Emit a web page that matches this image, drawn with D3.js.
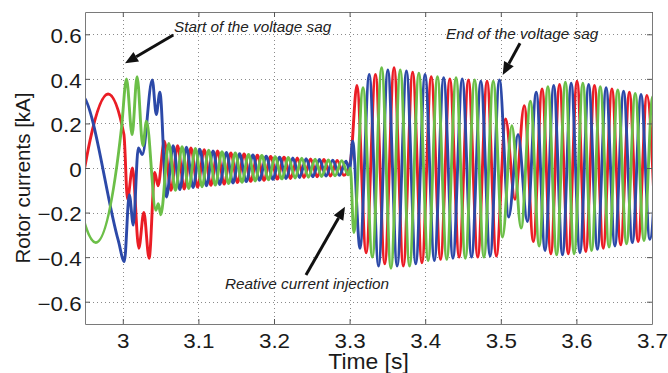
<!DOCTYPE html>
<html>
<head>
<meta charset="utf-8">
<script src="https://cdn.jsdelivr.net/npm/d3@7/dist/d3.min.js"></script>
<style>
  body { margin: 0; background: #fff; }
  svg { display: block; }
  text { font-family: "Liberation Sans", Arial, Helvetica, sans-serif; }
</style>
</head>
<body>
<div id="chart"></div>
<script>
// ---- assi ----
const xDomain = [2.95, 3.7];
const yDomain = [-0.7, 0.7];
const xTicks = [3.0, 3.1, 3.2, 3.3, 3.4, 3.5, 3.6, 3.7];
const xTickLabels = ["3", "3.1", "3.2", "3.3", "3.4", "3.5", "3.6", "3.7"];
const yTicks = [-0.6, -0.4, -0.2, 0, 0.2, 0.4, 0.6];
const yTickLabels = ["\u22120.6", "\u22120.4", "\u22120.2", "0", "0.2", "0.4", "0.6"];
const xLabel = "Time [s]";
const yLabel = "Rotor currents [kA]";

// ---- correnti di rotore: massimi/minimi [t (s), i (kA)] ----
const redPts = [
  [2.9330,-0.33],[2.9805,0.332],[3.0015,0.15],[3.0062,-0.14],[3.0128,0.00],[3.0212,-0.36],
  [3.0278,-0.20],[3.0348,-0.405],[3.0423,-0.02],[3.0466,-0.08],[3.0549,0.12],
  [3.0637,-0.10],[3.0725,0.10],[3.0813,-0.094],[3.0901,0.09],[3.0989,-0.086],[3.1077,0.082],
  [3.1165,-0.078],[3.1253,0.076],[3.1341,-0.072],[3.1429,0.068],[3.1517,-0.065],[3.1604,0.063],
  [3.1692,-0.06],[3.1780,0.057],[3.1868,-0.055],[3.1956,0.052],[3.2044,-0.05],[3.2132,0.049],
  [3.2220,-0.047],[3.2308,0.045],[3.2396,-0.043],[3.2484,0.041],[3.2572,-0.039],[3.2660,0.038],
  [3.2748,-0.036],[3.2836,0.034],[3.2924,-0.033],[3.3012,0.03],
  [3.3096,0.37],[3.3219,-0.38],[3.3342,0.42],[3.3465,-0.43],[3.3588,0.45],[3.3711,-0.44],
  [3.3834,0.43],[3.3957,-0.425],[3.4080,0.41],[3.4203,-0.41],[3.4326,0.40],[3.4449,-0.40],
  [3.4572,0.395],[3.4695,-0.40],[3.4818,0.39],[3.4941,-0.395],[3.5064,0.22],[3.5187,-0.14],
  [3.5310,0.28],[3.5431,-0.33],[3.5546,0.355],[3.5662,-0.385],[3.5777,0.375],[3.5893,-0.385],
  [3.6008,0.39],[3.6124,-0.375],[3.6239,0.37],[3.6355,-0.36],[3.6470,0.355],[3.6586,-0.345],
  [3.6701,0.34],[3.6817,-0.33],[3.6932,0.325],[3.7048,-0.315]
];
const bluePts = [
  [2.8960,-0.33],[2.9434,0.335],[2.9940,-0.325],[3.0020,-0.42],[3.0086,-0.12],[3.0139,-0.256],
  [3.0205,0.09],[3.0258,0.06],[3.0390,0.395],[3.0443,0.24],[3.0490,0.34],[3.0578,-0.13],
  [3.0666,0.10],[3.0754,-0.097],[3.0842,0.093],[3.0930,-0.088],[3.1018,0.084],[3.1106,-0.08],
  [3.1194,0.077],[3.1282,-0.074],[3.1370,0.07],[3.1458,-0.067],[3.1545,0.064],[3.1633,-0.061],
  [3.1721,0.058],[3.1809,-0.055],[3.1897,0.053],[3.1985,-0.051],[3.2073,0.049],[3.2161,-0.047],
  [3.2249,0.045],[3.2337,-0.043],[3.2425,0.042],[3.2513,-0.04],[3.2601,0.038],[3.2689,-0.036],
  [3.2777,0.035],[3.2865,-0.033],[3.2953,0.031],[3.3000,-0.01],[3.3040,0.12],
  [3.3137,-0.36],[3.3260,0.42],[3.3383,-0.44],[3.3506,0.44],[3.3629,-0.44],[3.3752,0.435],
  [3.3875,-0.43],[3.3998,0.42],[3.4121,-0.415],[3.4244,0.405],[3.4367,-0.405],[3.4490,0.40],
  [3.4613,-0.40],[3.4736,0.39],[3.4859,-0.395],[3.4982,0.395],[3.5105,-0.22],[3.5228,0.15],
  [3.5351,-0.24],[3.5469,0.34],[3.5585,-0.37],[3.5700,0.37],[3.5816,-0.39],[3.5931,0.38],
  [3.6047,-0.38],[3.6162,0.375],[3.6278,-0.365],[3.6393,0.36],[3.6509,-0.35],[3.6624,0.345],
  [3.6740,-0.335],[3.6855,0.33],[3.6971,-0.32],[3.7086,0.315]
];
const greenPts = [
  [2.9168,0.33],[2.9643,-0.335],[2.9983,0.18],[3.0049,0.40],[3.0123,0.15],[3.0189,0.41],
  [3.0265,0.10],[3.0313,0.21],[3.0437,-0.19],[3.0470,-0.16],[3.0503,-0.21],[3.0608,0.11],
  [3.0696,-0.10],[3.0784,0.096],[3.0872,-0.092],[3.0960,0.088],[3.1048,-0.084],[3.1136,0.08],
  [3.1224,-0.077],[3.1312,0.073],[3.1400,-0.07],[3.1488,0.067],[3.1576,-0.064],[3.1663,0.061],
  [3.1751,-0.058],[3.1839,0.056],[3.1927,-0.053],[3.2015,0.051],[3.2103,-0.049],[3.2191,0.047],
  [3.2279,-0.045],[3.2367,0.044],[3.2455,-0.042],[3.2543,0.04],[3.2631,-0.038],[3.2719,0.036],
  [3.2807,-0.035],[3.2895,0.033],[3.2983,-0.031],[3.3010,0.0],
  [3.3055,-0.29],[3.3178,0.36],[3.3301,-0.40],[3.3424,0.45],[3.3547,-0.45],[3.3670,0.44],
  [3.3793,-0.44],[3.3916,0.425],[3.4039,-0.415],[3.4162,0.41],[3.4285,-0.41],[3.4408,0.405],
  [3.4531,-0.405],[3.4654,0.395],[3.4777,-0.40],[3.4900,0.39],[3.5023,-0.31],[3.5146,0.19],
  [3.5269,-0.27],[3.5392,0.30],[3.5508,-0.35],[3.5623,0.365],[3.5739,-0.39],[3.5854,0.385],
  [3.5970,-0.385],[3.6085,0.38],[3.6201,-0.37],[3.6316,0.365],[3.6432,-0.355],[3.6547,0.35],
  [3.6663,-0.34],[3.6778,0.335],[3.6894,-0.325],[3.7009,0.32],[3.7125,-0.31]
];

// ---- annotazioni (coordinate nei dati) ----
const notes = [
  { text: "Start of the voltage sag", tx: 3.0677, ty: 0.6125, from: [3.0668, 0.597], to: [3.0029, 0.470] },
  { text: "End of the voltage sag", tx: 3.4275, ty: 0.577, from: [3.5254, 0.56], to: [3.5025, 0.417] },
  { text: "Reative current injection", tx: 3.1352, ty: -0.541, from: [3.2423, -0.48], to: [3.2939, -0.174] }
];

const W = 668, H = 373;
const plot = { left: 85, right: 652, top: 12, bottom: 324 };

const svg = d3.select("#chart").append("svg").attr("width", W).attr("height", H);

const x = d3.scaleLinear().domain(xDomain).range([plot.left, plot.right]);
const y = d3.scaleLinear().domain(yDomain).range([plot.bottom, plot.top]);

// griglia punteggiata
const grid = svg.append("g").attr("stroke", "#8a8a8a").attr("stroke-width", 1)
  .attr("stroke-dasharray", "1,3");
grid.selectAll(".gx").data(xTicks).enter().append("line")
  .attr("x1", d => Math.round(x(d)) + 0.5).attr("x2", d => Math.round(x(d)) + 0.5)
  .attr("y1", plot.top).attr("y2", plot.bottom);
grid.selectAll(".gy").data(yTicks).enter().append("line")
  .attr("y1", d => Math.round(y(d)) + 0.5).attr("y2", d => Math.round(y(d)) + 0.5)
  .attr("x1", plot.left).attr("x2", plot.right);

// curve
svg.append("clipPath").attr("id", "clip").append("rect")
  .attr("x", plot.left).attr("y", plot.top)
  .attr("width", plot.right - plot.left).attr("height", plot.bottom - plot.top);

const line = d3.line().x(d => x(d[0])).y(d => y(d[1])).curve(d3.curveMonotoneX);
const series = [
  { pts: redPts, color: "#ea1d25" },
  { pts: bluePts, color: "#2c49a8" },
  { pts: greenPts, color: "#6cbf48" }
];
const curves = svg.append("g").attr("clip-path", "url(#clip)");
series.forEach(s => {
  curves.append("path").datum(s.pts)
    .attr("fill", "none").attr("stroke", s.color).attr("stroke-width", 2.9)
    .attr("stroke-linejoin", "round").attr("d", line);
});

// assi stile MATLAB (tacche interne su tutti i lati)
const tickFont = 20;
const axB = svg.append("g").attr("transform", `translate(0,${plot.bottom})`)
  .call(d3.axisBottom(x).tickValues(xTicks).tickFormat((d, i) => xTickLabels[i])
    .tickSizeInner(-5).tickSizeOuter(0).tickPadding(9.5));
const axL = svg.append("g").attr("transform", `translate(${plot.left},0)`)
  .call(d3.axisLeft(y).tickValues(yTicks).tickFormat((d, i) => yTickLabels[i])
    .tickSizeInner(-5).tickSizeOuter(0).tickPadding(3));
const axT = svg.append("g").attr("transform", `translate(0,${plot.top})`)
  .call(d3.axisTop(x).tickValues(xTicks).tickFormat("").tickSizeInner(-5).tickSizeOuter(0));
const axR = svg.append("g").attr("transform", `translate(${plot.right},0)`)
  .call(d3.axisRight(y).tickValues(yTicks).tickFormat("").tickSizeInner(-5).tickSizeOuter(0));

[axB, axL, axT, axR].forEach(a => {
  a.select(".domain").attr("stroke", "#7a7a7a");
  a.selectAll(".tick line").attr("stroke", "#555");
  a.selectAll("text").attr("font-size", tickFont).attr("fill", "#1a1a1a")
    .style("font-family", '"Liberation Sans", Arial, sans-serif')
    .attr("transform", "scale(1.12,1)");
});
axL.selectAll("text").attr("dy", "0.42em");

// etichette degli assi
svg.append("text")
  .attr("transform", `translate(${(plot.left + plot.right) / 2},369) scale(1.04,1)`)
  .attr("text-anchor", "middle").attr("font-size", 22).attr("fill", "#1a1a1a").text(xLabel);
svg.append("text")
  .attr("transform", `translate(30,${(plot.top + plot.bottom) / 2 + 10}) rotate(-90)`)
  .attr("text-anchor", "middle").attr("font-size", 20.5).attr("fill", "#1a1a1a").text(yLabel);

// frecce e testi
const ann = svg.append("g");
notes.forEach(n => {
  const x1 = x(n.from[0]), y1 = y(n.from[1]), x2 = x(n.to[0]), y2 = y(n.to[1]);
  const ang = Math.atan2(y2 - y1, x2 - x1);
  const len = 13, half = 5.5;
  const bx = x2 - len * Math.cos(ang), by = y2 - len * Math.sin(ang);
  ann.append("line").attr("x1", x1).attr("y1", y1).attr("x2", bx).attr("y2", by)
    .attr("stroke", "#111").attr("stroke-width", 3);
  ann.append("path")
    .attr("d", `M${x2},${y2}L${bx + half * Math.sin(ang)},${by - half * Math.cos(ang)}L${bx - half * Math.sin(ang)},${by + half * Math.cos(ang)}Z`)
    .attr("fill", "#111");
  ann.append("text").attr("x", x(n.tx)).attr("y", y(n.ty))
    .attr("font-size", 15.3).attr("font-style", "italic").attr("fill", "#222").text(n.text);
});
</script>
</body>
</html>
